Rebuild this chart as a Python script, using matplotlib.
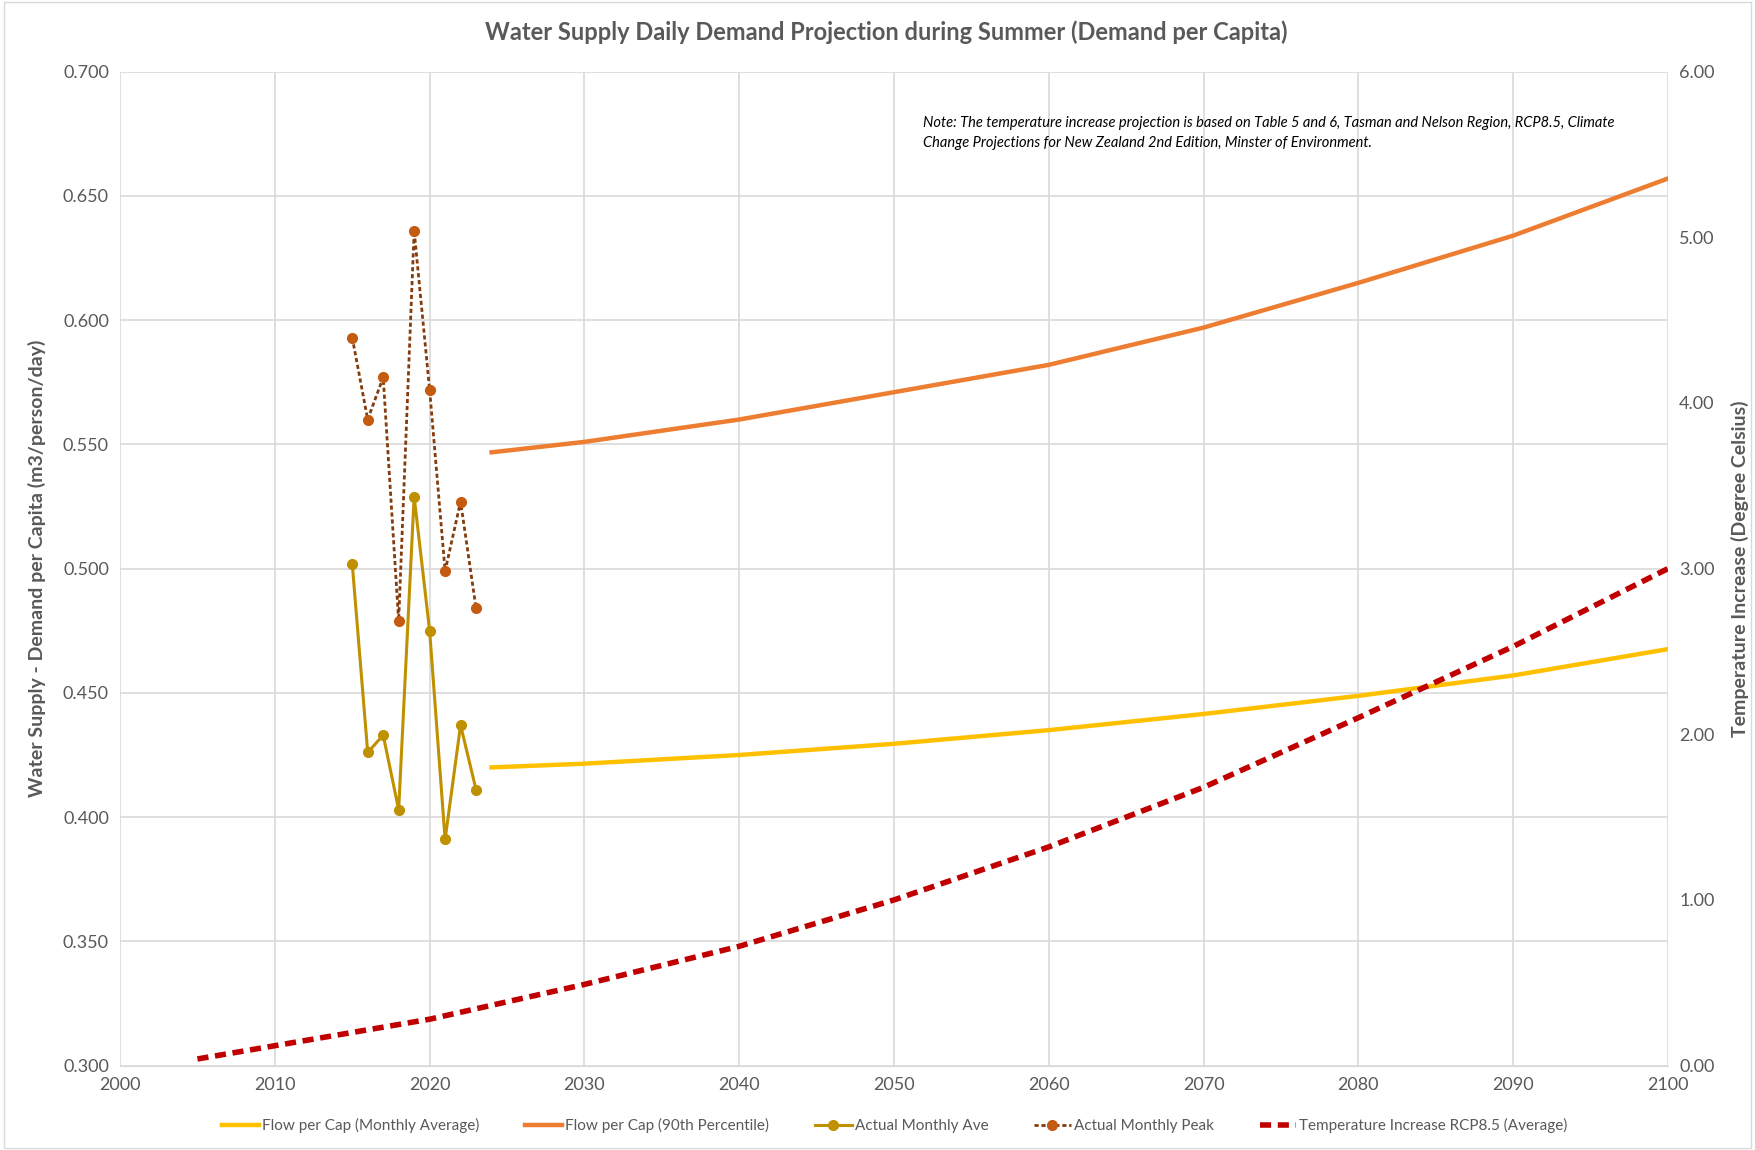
import matplotlib
matplotlib.use("Agg")
import matplotlib.pyplot as plt
from matplotlib.lines import Line2D
from matplotlib.patches import Rectangle

plt.rcParams['font.family'] = ['Lato', 'DejaVu Sans']

# Historical
hist_years = [2015, 2016, 2017, 2018, 2019, 2020, 2021, 2022, 2023]
actual_ave = [0.502, 0.426, 0.433, 0.403, 0.529, 0.475, 0.391, 0.437, 0.411]
actual_peak = [0.593, 0.560, 0.577, 0.479, 0.636, 0.572, 0.499, 0.527, 0.484]

# Projections
proj_years = [2024, 2030, 2040, 2050, 2060, 2070, 2080, 2090, 2100]
flow_avg = [0.420, 0.4215, 0.425, 0.4295, 0.435, 0.4415, 0.4488, 0.457, 0.4676]
flow_p90 = [0.5468, 0.551, 0.560, 0.571, 0.582, 0.597, 0.615, 0.634, 0.657]

temp_years = [2005, 2010, 2020, 2030, 2040, 2050, 2060, 2070, 2080, 2090, 2100]
temp_inc = [0.04, 0.12, 0.28, 0.49, 0.72, 1.00, 1.32, 1.68, 2.10, 2.53, 3.00]

c_avg = '#FFC000'
c_p90 = '#ED7D31'
c_act = '#BF9000'
c_peak_line = '#843C0C'
c_peak_mk = '#C55A11'
c_temp = '#C00000'
txt = '#595959'

fig = plt.figure(figsize=(17.55, 11.5), dpi=100)
fig.patches.append(Rectangle((0.002, 0.002), 0.996, 0.996, transform=fig.transFigure,
                             fill=False, edgecolor='#D9D9D9', linewidth=1))
ax = fig.add_axes([0.0684, 0.0734, 0.882, 0.8643])
ax2 = ax.twinx()

ax.set_xlim(2000, 2100)
ax.set_ylim(0.3, 0.7)
ax2.set_ylim(0, 6)
ax.set_xticks(range(2000, 2101, 10))
ax.set_yticks([0.3 + 0.05 * i for i in range(9)])
ax.set_yticklabels([f"{0.3 + 0.05 * i:.3f}" for i in range(9)])
ax2.set_yticks(range(0, 7))
ax2.set_yticklabels([f"{v:.2f}" for v in range(0, 7)])

ax.grid(True, color='#D9D9D9', linewidth=1.2)
ax.set_axisbelow(True)
for a in (ax, ax2):
    for s in a.spines.values():
        s.set_visible(False)
    a.tick_params(length=0, labelsize=13, colors=txt, pad=8)
ax.spines['bottom'].set_visible(True)
ax.spines['bottom'].set_color('#D9D9D9')

ax.plot(proj_years, flow_avg, color=c_avg, lw=3.2, zorder=3)
ax.plot(proj_years, flow_p90, color=c_p90, lw=3.2, zorder=3)
ax.plot(hist_years, actual_ave, color=c_act, lw=2.2, marker='o', ms=7,
        markerfacecolor=c_act, markeredgecolor=c_act, zorder=4)
ax.plot(hist_years, actual_peak, color=c_peak_line, lw=2, ls=(0, (1.5, 1)), zorder=4)
ax.plot(hist_years, actual_peak, ls='none', marker='o', ms=7,
        markerfacecolor=c_peak_mk, markeredgecolor=c_peak_mk, zorder=5)
ax2.plot(temp_years, temp_inc, color=c_temp, lw=4, ls=(0, (2, 1.2)), zorder=3)

ax.set_ylabel('Water Supply - Demand per Capita (m3/person/day)', fontsize=14,
              fontweight='bold', color=txt, labelpad=12)
ax2.set_ylabel('Temperature Increase (Degree Celsius)', fontsize=14,
               fontweight='bold', color=txt, labelpad=12)
fig.text(0.505, 0.972, 'Water Supply Daily Demand Projection during Summer (Demand per Capita)',
         ha='center', va='center', fontsize=17, fontweight='bold', color=txt)

ax.text(0.519, 0.955, 'Note: The temperature increase projection is based on Table 5 and 6, Tasman and Nelson Region, RCP8.5, Climate\n'
        'Change Projections for New Zealand 2nd Edition, Minster of Environment.',
        transform=ax.transAxes, ha='left', va='top', fontsize=10.5, style='italic',
        color='black', linespacing=1.5)

handles = [
    Line2D([], [], color=c_avg, lw=3.2),
    Line2D([], [], color=c_p90, lw=3.2),
    Line2D([], [], color=c_act, lw=2.2, marker='o', ms=7),
    Line2D([], [], color=c_peak_line, lw=2, ls=(0, (1.5, 1)), marker='o', ms=7,
           markerfacecolor=c_peak_mk, markeredgecolor=c_peak_mk),
    Line2D([], [], color=c_temp, lw=4, ls=(0, (2, 1.2))),
]
labels = ['Flow per Cap (Monthly Average)', 'Flow per Cap (90th Percentile)',
          'Actual Monthly Ave', 'Actual Monthly Peak', 'Temperature Increase RCP8.5 (Average)']
leg = fig.legend(handles, labels, loc='center', bbox_to_anchor=(0.51, 0.021), ncol=5,
                 frameon=False, fontsize=11, handlelength=2.4, columnspacing=3.0,
                 handletextpad=0.2)
for t in leg.get_texts():
    t.set_color(txt)

fig.savefig('out.png', dpi=100)
